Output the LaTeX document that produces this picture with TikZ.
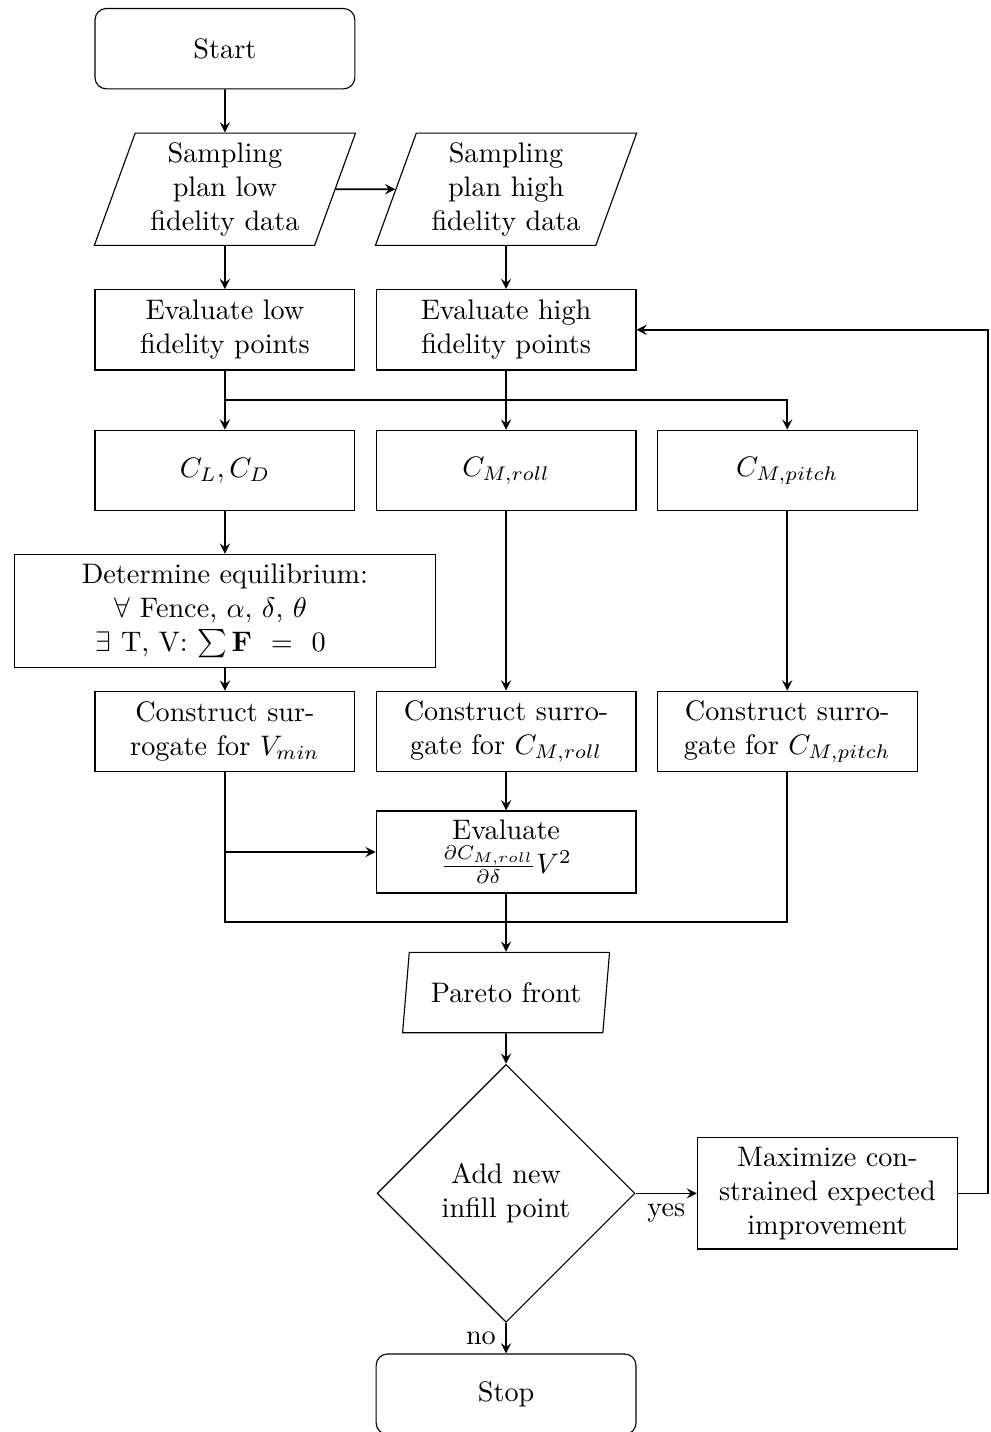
\documentclass[tikz,border=0pt]{standalone}
\usepackage{amsmath,amssymb}
\usetikzlibrary{arrows}
\usetikzlibrary{shapes.geometric}

\begin{document}
\begin{tikzpicture}[>=stealth,
    terminal/.style={draw, rounded corners, text width=3cm, align=center, minimum height=1cm},
    block/.style={draw, text width=3cm, align=center, minimum height=1cm},
    data/.style={draw, trapezium, trapezium left angle=70, trapezium right angle=110, text width=2cm, align=center, minimum height=1cm},
    decision/.style={draw, diamond, aspect=1, text width=2cm, align=center},
    line/.style={semithick}]
      \useasboundingbox (-2.8,0.606) rectangle (9.525,-17.221);

      \node[terminal] (start) at (0,0) {Start};
      \node[data] (samplow) at (0,-1.75) {Sampling plan low fidelity data};
      \node[data] (samphigh) at (3.5,-1.75) {Sampling plan high fidelity data};

      \node[block] (evallow) at (0,-3.5) {Evaluate low fidelity points};
      \node[block] (evalhigh) at (3.5,-3.5) {Evaluate high fidelity points};

      \node[block] (clcd) at (0,-5.25) {$C_L, C_D$};
      \node[block] (croll) at (3.5,-5.25) {$C_{M,roll}$};
      \node[block] (cpitch) at (7,-5.25) {$C_{M,pitch}$};

      \node[block,text width=5cm] (equil) at (0,-7) {Determine equilibrium:\\ \hspace*{-3.5mm}$\forall$ Fence, $\alpha$, $\delta$, $\theta$\\ \hspace*{-3.5mm}$\exists$ T, V: $\sum\mathbf{F}\mskip12mu{=}\mskip12mu0$};

      \node[block] (survmin) at (0,-8.5) {Construct surrogate for $V_{min}$};
      \node[block] (surroll) at (3.5,-8.5) {Construct surrogate for $C_{M,roll}$};
      \node[block] (surpitch) at (7,-8.5) {Construct surrogate for $C_{M,pitch}$};

      \node[block] (evalderiv) at (3.5,-10) {Evaluate\\ $\frac{\partial C_{M,roll}}{\partial\delta}V^2$};

      \node[data,trapezium left angle=81,trapezium right angle=99,trapezium stretches=true,minimum width=2.58cm] (pareto) at (3.5,-11.75) {Pareto front};
      \node[decision] (infill) at (3.5,-14.25) {Add new infill point};
      \node[block] (maxei) at (7.5,-14.25) {Maximize constrained expected improvement};
      \node[terminal] (stop) at (3.5,-16.75) {Stop};

      \coordinate (jl) at (0,-4.375);
      \coordinate (jr) at (3.5,-4.375);
      \coordinate (br) at (7,-10.875);
      \coordinate (fork) at (0,-10);
      \coordinate (back) at (9.5,-3.5);

      \draw[line,->] (start) -- (samplow);
      \draw[line,->] (samplow) -- (samphigh);
      \draw[line,->] (samplow) -- (evallow);
      \draw[line,->] (samphigh) -- (evalhigh);

      \draw[line,->] (evallow) -- (clcd);
      \draw[line,->] (evalhigh) -- (croll);
      \draw[line] (jl) -- (jr);
      \draw[line,->] (jr) -| (cpitch);

      \draw[line,->] (clcd) -- (equil);
      \draw[line,->] (equil) -- (survmin);
      \draw[line,->] (croll) -- (surroll);
      \draw[line,->] (cpitch) -- (surpitch);
      \draw[line,->] (surroll) -- (evalderiv);

      \draw[line] (survmin) |- (br) -- (surpitch);
      \draw[line,->] (fork) -- (evalderiv);
      \draw[line,->] (evalderiv) -- (pareto);
      \draw[line,->] (pareto) -- (infill);

      \draw[line,->] (infill) -- node[below] {yes} (maxei);
      \draw[line,->] (maxei) -| (back) -- (evalhigh);
      \draw[line,->] (infill) -- node[left] {no} (stop);
    \end{tikzpicture}
\end{document}
